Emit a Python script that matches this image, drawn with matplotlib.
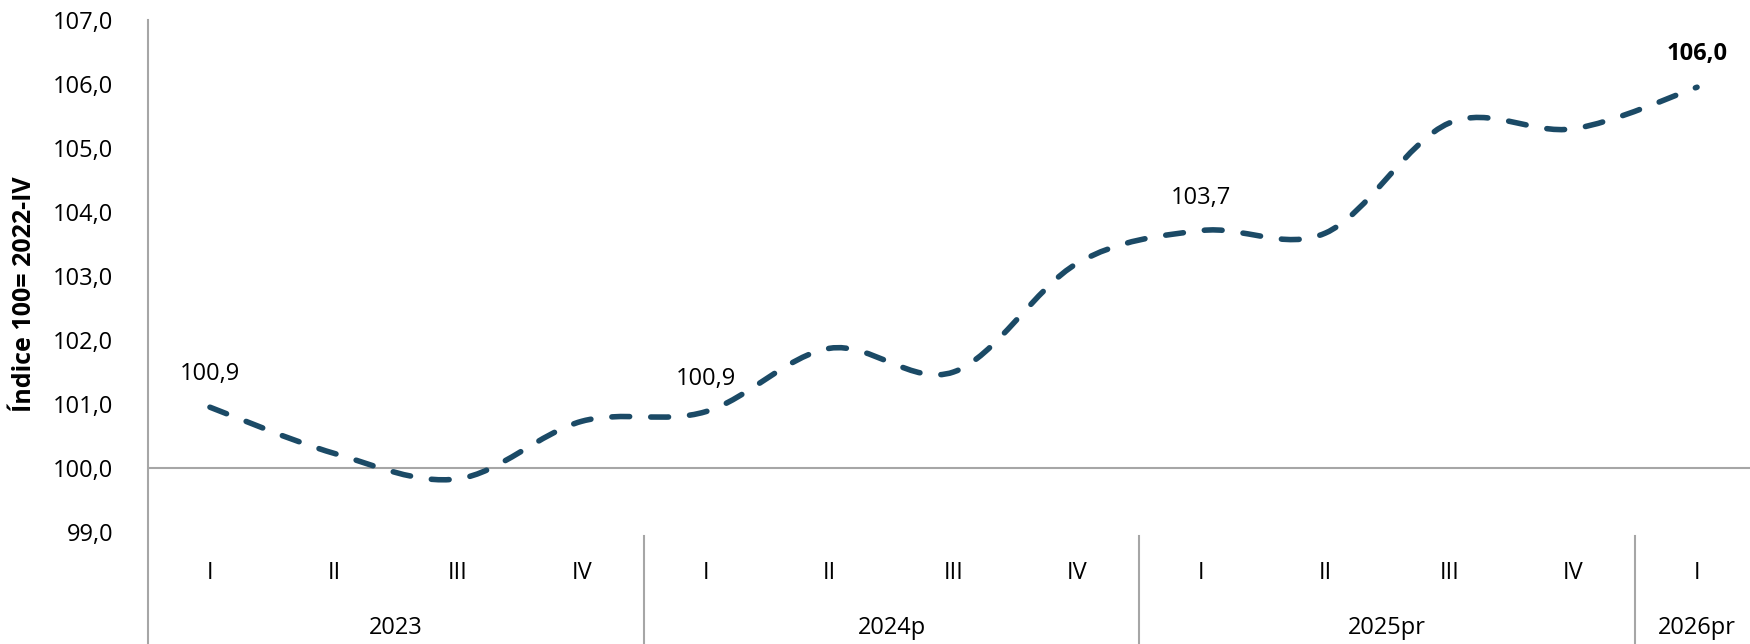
import matplotlib.pyplot as plt
import numpy as np
from matplotlib.path import Path
from matplotlib.patches import PathPatch
import matplotlib.transforms as mtransforms

plt.rcParams['font.family'] = ['Open Sans', 'DejaVu Sans']

# data
quarters = ['I', 'II', 'III', 'IV', 'I', 'II', 'III', 'IV', 'I', 'II', 'III', 'IV', 'I']
years = ['2023', '2024p', '2025pr', '2026pr']
year_sizes = [4, 4, 4, 1]
values = [100.95, 100.23, 99.83, 100.73, 100.88, 101.87, 101.50, 103.20,
          103.71, 103.67, 105.39, 105.30, 105.95]
labels = {0: '100,9', 4: '100,9', 8: '103,7', 12: '106,0'}

W, H = 1750, 644
fig = plt.figure(figsize=(W / 100, H / 100), dpi=100)
left, right, top, bottom = 148, 1759, 20, 532
ax = fig.add_axes([left / W, 1 - bottom / H, (right - left) / W, (bottom - top) / H])

line_color = '#1B4A66'
grey = '#A6A6A6'

x = np.arange(len(values)) + 0.5
y = np.array(values)
ax.set_xlim(0, len(values))
ax.set_ylim(99, 107)

# smoothed line (catmull-rom as bezier)
pts = np.column_stack([x, y])
verts = [pts[0]]
codes = [Path.MOVETO]
n = len(pts)
for i in range(n - 1):
    p_prev = pts[max(i - 1, 0)]
    p0 = pts[i]
    p1 = pts[i + 1]
    p_next = pts[min(i + 2, n - 1)]
    c1 = p0 + (p1 - p_prev) / 6
    c2 = p1 - (p_next - p0) / 6
    verts += [c1, c2, p1]
    codes += [Path.CURVE4] * 3
patch = PathPatch(Path(verts, codes), fill=False, edgecolor=line_color, lw=4,
                  linestyle=(0, (3.2, 3.8)), capstyle='round', joinstyle='round')
ax.add_patch(patch)

# horizontal line at 100
ax.axhline(100, color=grey, lw=1.5, zorder=0)

for s in ['top', 'right', 'bottom', 'left']:
    ax.spines[s].set_visible(False)

# left axis extended to the bottom
y_bot = (bottom - H) / (bottom - top)
ax.plot([0, 0], [1, y_bot], transform=ax.transAxes, color=grey, lw=1.5, clip_on=False)

ax.set_yticks(np.arange(99, 108, 1))
ax.set_yticklabels([f'{v:.1f}'.replace('.', ',') for v in np.arange(99, 108, 1)])
ax.tick_params(axis='y', length=0, pad=25, labelsize=17)
ax.set_xticks([])

# category labels
trans = mtransforms.blended_transform_factory(ax.transData, ax.transAxes)
q_y = (bottom - 573) / (bottom - top)
yr_y = (bottom - 628) / (bottom - top)
sep_top = (bottom - 536) / (bottom - top)
for xi, q in zip(x, quarters):
    ax.text(xi, q_y, q, transform=trans, ha='center', va='center', fontsize=17)
start = 0
for yr, size in zip(years, year_sizes):
    ax.text(start + size / 2, yr_y, yr, transform=trans, ha='center', va='center', fontsize=17)
    start += size
    if start < len(values):
        ax.plot([start, start], [sep_top, y_bot], transform=trans, color=grey, lw=1.5, clip_on=False)

# data labels
for i, txt in labels.items():
    bold = i == len(values) - 1
    ax.annotate(txt, (x[i], y[i]), xytext=(0, 15), textcoords='offset points',
                ha='center', va='bottom', fontsize=17,
                fontweight='bold' if bold else 'normal')

fig.text(25 / W, 1 - 294 / H, 'Índice 100= 2022-IV', rotation=90, ha='center', va='center',
         fontsize=18, fontweight='bold')

fig.savefig('out.png', dpi=100)
